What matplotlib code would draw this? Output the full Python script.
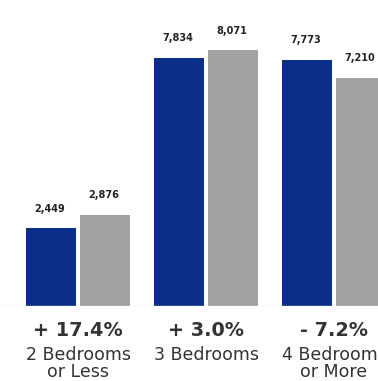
import numpy as np
import matplotlib
matplotlib.use('Agg')
import matplotlib.pyplot as plt

categories = ['2 Bedrooms\nor Less', '3 Bedrooms', '4 Bedrooms\nor More']
prev_year = [2449, 7834, 7773]
this_year = [2876, 8071, 7210]
changes = ['+ 17.4%', '+ 3.0%', '- 7.2%']

plt.rcParams['font.family'] = ['DejaVu Sans']

fig = plt.figure(figsize=(3.78, 3.81), dpi=100)
ax = fig.add_axes([0, 75 / 381, 1, 306 / 381])

index = np.arange(len(categories))
bar_width = 0.387
offset = 0.211
blue = '#0b2f88'
grey = '#a2a2a2'

rects1 = ax.bar(index - offset, prev_year, bar_width, color=blue)
rects2 = ax.bar(index + offset, this_year, bar_width, color=grey)

# value on top of every bar
for rects in (rects1, rects2):
    for r in rects:
        h = r.get_height()
        ax.annotate('{:,}'.format(int(h)), xy=(r.get_x() + r.get_width() / 2, h),
                    xytext=(-1, 10.5), textcoords='offset points',
                    ha='center', va='bottom', fontsize=7, fontweight='bold',
                    color='#222222', clip_on=False)

# change and bedroom group under each pair
for i in index:
    ax.annotate(changes[i], xy=(i, 0), xytext=(0, -17.3), textcoords='offset points',
                ha='center', va='center', fontsize=13.9, fontweight='bold',
                color='#333333', annotation_clip=False)
    ax.annotate(categories[i], xy=(i, 0), xytext=(0, -29.0), textcoords='offset points',
                ha='center', va='top', fontsize=12.5, color='#333333',
                linespacing=0.9, annotation_clip=False)

ax.axhline(0, color='#dddddd', lw=1)
ax.set_xlim(-78 / 128, 300 / 128)
ax.set_ylim(0, 9665)
ax.axis('off')

fig.savefig('out.png', dpi=100)
